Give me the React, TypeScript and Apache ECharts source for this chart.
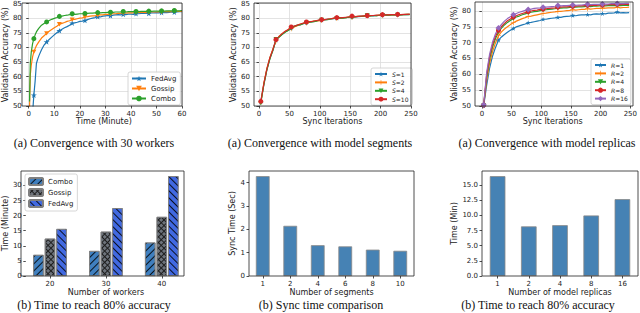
import React, { useEffect, useRef } from "react";
import * as echarts from "echarts";

// ---------- Panel (a) 30 workers ----------
const timeMin = [0.3, 0.6, 1, 1.5, 2, 2.5, 3, 3.5, 4, 5, 6, 7, 8, 9, 10, 11, 12, 13, 14, 15, 16, 17, 18, 19, 20, 21, 22, 23, 24, 25, 26, 27, 28, 29, 30, 31, 32, 33, 34, 35, 36, 37, 38, 39, 40, 41, 42, 43, 44, 45, 46, 47, 48, 49, 50, 51, 52, 53, 54, 55, 56, 57, 58, 59, 60];
const fedAvgAcc = [15, 24, 36, 47.5, 53.7, 58.5, 64.5, 66.0, 67.2, 69.2, 70.8,
  71.9, 72.7, 73.5, 74.3, 75.0, 75.7, 76.2, 76.7, 77.1, 77.6,
  78.3, 78.4, 78.6, 78.9, 79.0, 79.2, 79.5, 79.8, 80.0, 80.2,
  80.5, 80.4, 80.7, 80.8, 80.9, 80.8, 81.0, 81.1, 81.2, 81.1,
  81.3, 81.2, 81.4, 81.4, 81.3, 81.5, 81.5, 81.6, 81.6, 81.7,
  81.6, 81.8, 81.8, 81.9, 81.8, 81.9, 82.0, 81.9, 82.0, 82.1,
  82.0, 82.1, 82.2, 82.2];
const gossipAcc = [49.0, 60.5, 64.0, 66.8, 68.5, 69.6, 70.6, 71.3, 72.0, 73.2, 74.0,
  74.8, 75.5, 76.1, 76.7, 77.2, 77.9, 78.2, 78.5, 78.9, 79.1,
  79.5, 79.6, 79.8, 80.0, 80.1, 80.4, 80.5, 80.7, 80.8, 80.8,
  81.0, 81.1, 81.1, 81.3, 81.3, 81.4, 81.5, 81.5, 81.6, 81.6,
  81.7, 81.7, 81.8, 81.8, 81.8, 81.9, 81.9, 82.0, 82.0, 81.9,
  82.0, 82.1, 82.1, 82.1, 82.2, 82.1, 82.2, 82.2, 82.3, 82.2,
  82.3, 82.3, 82.3, 82.3];
const comboAcc = [51.5, 64.5, 68.5, 71.3, 73.0, 74.3, 75.3, 76.0, 76.6, 77.6, 78.2,
  78.7, 79.2, 79.6, 79.9, 80.2, 80.6, 80.7, 80.9, 81.0, 81.2,
  81.5, 81.3, 81.4, 81.5, 81.5, 81.6, 81.6, 81.7, 81.7, 81.8,
  81.9, 81.8, 81.9, 81.9, 82.0, 82.0, 82.0, 82.1, 82.1, 82.1,
  82.3, 82.1, 82.2, 82.2, 82.2, 82.3, 82.2, 82.3, 82.3, 82.3,
  82.4, 82.3, 82.4, 82.4, 82.4, 82.5, 82.4, 82.5, 82.5, 82.5,
  82.6, 82.5, 82.5, 82.6];
const timeMarks = [2, 7, 12, 17, 22, 27, 32, 37, 42, 47, 52, 57];

// ---------- Panel (a) model segments / replicas ----------
const iters = [3, 8, 13, 18, 23, 28, 33, 38, 43, 48, 53, 58, 63, 68, 73, 78, 83, 88, 93, 98, 103, 108, 113, 118, 123, 128, 133, 138, 143, 148, 153, 158, 163, 168, 173, 178, 183, 188, 193, 198, 203, 208, 213, 218, 223, 228, 233, 238, 243, 248];
const iterMarks = [3, 28, 53, 78, 103, 128, 153, 178, 203, 228];
const seg1 = [51.5, 57.5, 62.5, 66.3, 69.2, 72.5, 73.6, 74.5, 75.3, 75.9, 76.6, 77.1, 77.5, 77.8, 78.1, 78.5, 78.6, 78.8, 79.0, 79.2, 79.3, 79.4, 79.6, 79.7, 79.8, 80.0, 80.0, 80.1, 80.2, 80.3, 80.5, 80.4, 80.5, 80.6, 80.7, 80.8, 80.8, 80.8, 80.9, 80.9, 81.0, 81.0, 81.0, 81.1, 81.1, 81.2, 81.1, 81.2, 81.2, 81.3];
const seg2 = [51.2, 57.8, 62.8, 66.6, 69.5, 72.3, 73.8, 74.7, 75.4, 76.0, 76.4, 77.0, 77.4, 77.9, 78.2, 78.3, 78.7, 78.9, 79.1, 79.1, 79.2, 79.5, 79.6, 79.8, 79.9, 79.9, 80.1, 80.2, 80.2, 80.4, 80.3, 80.5, 80.6, 80.6, 80.7, 80.7, 80.8, 80.9, 80.9, 81.0, 80.9, 81.0, 81.1, 81.1, 81.2, 81.1, 81.2, 81.2, 81.3, 81.3];
const seg4 = [51.0, 57.2, 62.3, 66.1, 69.0, 72.8, 73.5, 74.4, 75.2, 75.8, 76.5, 77.2, 77.6, 77.7, 78.2, 78.4, 78.6, 78.7, 78.9, 79.3, 79.4, 79.5, 79.5, 79.7, 79.9, 80.0, 80.1, 80.0, 80.2, 80.3, 80.2, 80.4, 80.6, 80.6, 80.7, 80.9, 80.8, 80.9, 80.8, 81.0, 81.0, 81.1, 81.0, 81.1, 81.2, 81.1, 81.1, 81.2, 81.3, 81.2];
const seg10 = [51.6, 57.6, 62.7, 66.5, 69.4, 72.7, 73.7, 74.7, 75.5, 76.1, 77.0, 77.3, 77.6, 78.0, 78.3, 78.7, 78.8, 78.9, 79.1, 79.3, 79.5, 79.5, 79.7, 79.8, 80.0, 80.2, 80.1, 80.2, 80.3, 80.4, 80.7, 80.5, 80.6, 80.7, 80.8, 80.9, 80.9, 80.9, 81.0, 81.0, 81.2, 81.1, 81.1, 81.2, 81.2, 81.3, 81.2, 81.3, 81.3, 81.4];
const rep1 = [50.0, 56.5, 62.0, 65.8, 68.5, 70.8, 71.8, 72.6, 73.3, 73.9, 74.5, 75.0, 75.3, 75.6, 75.9, 76.3, 76.4, 76.6, 76.8, 77.0, 77.4, 77.4, 77.6, 77.7, 77.8, 78.0, 78.0, 78.2, 78.3, 78.4, 78.6, 78.5, 78.7, 78.8, 78.8, 78.9, 78.8, 79.0, 79.1, 79.0, 79.2, 79.1, 79.3, 79.3, 79.4, 79.7, 79.4, 79.5, 79.4, 79.5];
const rep2 = [50.1, 58.0, 63.5, 67.2, 70.0, 72.2, 73.4, 74.3, 75.0, 75.7, 76.3, 76.8, 77.2, 77.6, 77.9, 78.3, 78.4, 78.6, 78.8, 79.0, 79.2, 79.3, 79.5, 79.6, 79.7, 79.9, 79.9, 80.0, 80.1, 80.2, 80.4, 80.3, 80.4, 80.5, 80.5, 80.7, 80.6, 80.7, 80.8, 80.8, 80.9, 80.9, 81.0, 81.0, 81.0, 81.2, 81.0, 81.1, 81.1, 81.2];
const rep4 = [50.2, 59.0, 64.8, 68.6, 71.3, 73.4, 74.6, 75.6, 76.4, 77.0, 77.6, 78.1, 78.4, 78.8, 79.1, 79.4, 79.6, 79.8, 79.9, 80.1, 80.3, 80.4, 80.5, 80.6, 80.7, 80.9, 80.9, 81.0, 81.0, 81.1, 81.2, 81.2, 81.3, 81.3, 81.4, 81.5, 81.4, 81.5, 81.5, 81.6, 81.6, 81.6, 81.7, 81.7, 81.7, 81.8, 81.7, 81.8, 81.8, 81.8];
const rep8 = [50.3, 59.8, 65.6, 69.4, 72.0, 73.9, 75.1, 76.1, 76.9, 77.5, 78.1, 78.5, 78.9, 79.2, 79.5, 79.8, 80.0, 80.2, 80.3, 80.5, 80.6, 80.7, 80.8, 80.9, 81.0, 81.2, 81.2, 81.3, 81.3, 81.4, 81.5, 81.5, 81.6, 81.6, 81.7, 81.8, 81.7, 81.8, 81.8, 81.9, 81.9, 81.9, 82.0, 82.0, 82.0, 82.1, 82.0, 82.1, 82.1, 82.1];
const rep16 = [50.4, 60.5, 66.4, 70.2, 72.8, 74.6, 75.8, 76.8, 77.6, 78.2, 78.8, 79.2, 79.6, 79.9, 80.2, 80.5, 80.6, 80.8, 80.9, 81.0, 81.2, 81.2, 81.3, 81.4, 81.5, 81.7, 81.6, 81.7, 81.7, 81.8, 81.9, 81.8, 81.9, 81.9, 82.0, 82.1, 82.0, 82.1, 82.1, 82.1, 82.2, 82.2, 82.2, 82.3, 82.3, 82.4, 82.3, 82.3, 82.4, 82.4];

// ---------- Panel (b) bars ----------
const workerCats = ["20", "30", "40"];
const comboTime = [7.0, 8.3, 11.1];
const gossipTime = [12.4, 14.7, 19.6];
const fedAvgTime = [15.6, 22.5, 33.1];
const segmentCats = ["1", "2", "4", "6", "8", "10"];
const syncTime = [4.28, 2.15, 1.32, 1.27, 1.13, 1.08];
const replicaCats = ["1", "2", "4", "8", "16"];
const replicaTime = [16.5, 8.2, 8.4, 10.0, 12.7];

// ---------- tick lists ----------
const ticksTime = [0, 10, 20, 30, 40, 50, 60];
const ticksIter = [0, 50, 100, 150, 200, 250];
const ticksAcc85 = [50, 55, 60, 65, 70, 75, 80, 85];
const ticksAcc80 = [50, 55, 60, 65, 70, 75, 80];
const ticksWorkers = [0, 5, 10, 15, 20, 25, 30];
const ticksSync = [0, 1, 2, 3, 4];
const ticksReplica = [0, 2.5, 5, 7.5, 10, 12.5, 15];

const FONT = "DejaVu Sans";
const SERIF = "Liberation Serif";
const INK = "#222";
const C = ["#1f77b4", "#ff7f0e", "#2ca02c", "#d62728", "#9467bd"];
const STAR = "path://M50,0 L61.8,35.1 L98.9,35.1 L68.9,56.8 L80.3,91.9 L50,70.2 L19.7,91.9 L31.1,56.8 L1.1,35.1 L38.2,35.1 Z";
const TRI_DOWN = "path://M0,0 L100,0 L50,87 Z";
const PLUS = "path://M44,0 H56 V44 H100 V56 H56 V100 H44 V56 H0 V44 H44 Z";

function lineSeries(name: string, xs: number[], ys: number[], color: string, symbol: string, size: number, marks: number[], idx: number) {
  return {
    type: "line",
    name,
    xAxisIndex: idx,
    yAxisIndex: idx,
    data: xs.map((x, i) => [x, ys[i]]),
    symbol,
    symbolKeepAspect: true,
    symbolSize: (v: number[]) => (marks.includes(v[0]) ? size : 0),
    showSymbol: true,
    clip: true,
    lineStyle: { color, width: 1.2 },
    itemStyle: { color },
    emphasis: { disabled: true },
  };
}

function valAxis(grid: number, min: number, max: number, ticks: number[], extra: any = {}) {
  return {
    type: "value",
    gridIndex: grid,
    min,
    max,
    axisLine: { show: false },
    axisTick: { show: true, length: 2.5, customValues: ticks, lineStyle: { color: INK, width: 0.8 } },
    axisLabel: { customValues: ticks, fontSize: 7, fontFamily: FONT, color: INK, margin: 4 },
    splitLine: { show: false },
    nameLocation: "middle",
    nameTextStyle: { fontSize: 8, fontFamily: FONT, color: INK },
    ...extra,
  };
}

function catAxis(grid: number, cats: string[], name: string) {
  return {
    type: "category",
    gridIndex: grid,
    data: cats,
    axisLine: { show: false },
    axisTick: { show: true, alignWithLabel: true, length: 2.5, lineStyle: { color: INK, width: 0.8 } },
    axisLabel: { fontSize: 7, fontFamily: FONT, color: INK, margin: 4 },
    name,
    nameLocation: "middle",
    nameGap: 12,
    nameTextStyle: { fontSize: 8, fontFamily: FONT, color: INK },
  };
}

const gridLine = { show: true, lineStyle: { color: "#dcdcdc", width: 0.8 } };

const hatch = (rotation: number) => ({
  symbol: "rect",
  symbolSize: 1,
  color: "rgba(0,0,0,0.85)",
  dashArrayX: [1, 0],
  dashArrayY: [1, 3.5],
  rotation,
});

const frames = [
  [22, 3, 160, 103],
  [254, 3, 157, 103],
  [475, 2, 158, 104],
  [21, 171, 163, 105],
  [249, 171, 165, 105],
  [482, 171, 156, 105],
];

const captions = [
  ["(a) Convergence with 30 workers", 94, 143],
  ["(a) Convergence with model segments", 320, 143],
  ["(a) Convergence with model replicas", 547, 143],
  ["(b) Time to reach 80% accuracy", 94, 305],
  ["(b) Sync time comparison", 321, 305],
  ["(b) Time to reach 80% accuracy", 538, 305],
];

const legendBase = {
  orient: "vertical",
  borderColor: "#cccccc",
  borderWidth: 0.8,
  borderRadius: 2,
  backgroundColor: "rgba(255,255,255,0.85)",
  textStyle: { fontSize: 7, fontFamily: FONT, color: INK },
  selectedMode: false,
};

const italicFmt = (n: string) => `{i|${n[0]}}${n.slice(1)}`;

const option: any = {
  animation: false,
  backgroundColor: "#fff",
  grid: [
    { left: 22, top: 3, width: 160, height: 103 },
    { left: 254, top: 3, width: 157, height: 103 },
    { left: 475, top: 2, width: 158, height: 104 },
    { left: 17.25, top: 171, width: 172.5, height: 105 },
    { left: 249, top: 171, width: 165, height: 105 },
    { left: 482, top: 171, width: 156, height: 105 },
  ],
  xAxis: [
    valAxis(0, -1.15, 60, ticksTime, { name: "Time (Minute)", nameGap: 11, splitLine: gridLine }),
    valAxis(1, -8.2, 250, ticksIter, { name: "Sync Iterations", nameGap: 11, splitLine: gridLine }),
    valAxis(2, -11.6, 250, ticksIter, { name: "Sync Iterations", nameGap: 11, splitLine: gridLine }),
    catAxis(3, workerCats, "Number of workers"),
    catAxis(4, segmentCats, "Number of segments"),
    catAxis(5, replicaCats, "Number of model replicas"),
  ],
  yAxis: [
    valAxis(0, 50, 85, ticksAcc85, { name: "Validation Accuracy (%)", nameGap: 13, splitLine: gridLine }),
    valAxis(1, 50, 85, ticksAcc85, { name: "Validation Accuracy (%)", nameGap: 15, splitLine: gridLine }),
    valAxis(2, 50, 82.84, ticksAcc80, { name: "Validation Accuracy (%)", nameGap: 13, splitLine: gridLine }),
    valAxis(3, 0, 34.8, ticksWorkers, { name: "Time (Minute)", nameGap: 13, offset: -3.75 }),
    valAxis(4, 0, 4.5, ticksSync, { name: "Sync Time (Sec)", nameGap: 10 }),
    valAxis(5, 0, 17.35, ticksReplica, {
      name: "Time (Min)",
      nameGap: 20,
      axisLabel: { customValues: ticksReplica, fontSize: 7, fontFamily: FONT, color: INK, margin: 4, formatter: (v: number) => v.toFixed(1) },
    }),
  ],
  legend: [
    { ...legendBase, data: ["FedAvg", "Gossip", "Combo"], left: 128, top: 72, itemWidth: 14, itemHeight: 7, itemGap: 3, padding: [3, 4, 3, 3] },
    {
      ...legendBase, data: ["S=1", "S=2", "S=4", "S=10"], left: 371, top: 68, itemWidth: 12, itemHeight: 6, itemGap: 2.4, padding: [3, 4, 3, 3],
      formatter: italicFmt,
      textStyle: { fontSize: 6, fontFamily: FONT, color: INK, rich: { i: { fontSize: 6, fontFamily: FONT, fontStyle: "italic", color: INK } } },
    },
    {
      ...legendBase, data: ["R=1", "R=2", "R=4", "R=8", "R=16"], left: 591, top: 59, itemWidth: 11, itemHeight: 6.5, itemGap: 2.4, padding: [3, 3, 3, 3],
      formatter: italicFmt,
      textStyle: { fontSize: 6, fontFamily: FONT, color: INK, rich: { i: { fontSize: 6, fontFamily: FONT, fontStyle: "italic", color: INK } } },
    },
    {
      ...legendBase, data: ["bar:Combo", "bar:Gossip", "bar:FedAvg"], left: 25, top: 174, itemWidth: 14, itemHeight: 7, itemGap: 2, padding: [3, 4, 3, 3],
      formatter: (n: string) => n.replace("bar:", ""),
    },
  ],
  series: [
    lineSeries("FedAvg", timeMin, fedAvgAcc, C[0], STAR, 6, timeMarks, 0),
    lineSeries("Gossip", timeMin, gossipAcc, C[1], TRI_DOWN, 5, timeMarks, 0),
    lineSeries("Combo", timeMin, comboAcc, C[2], "circle", 5, timeMarks, 0),
    lineSeries("S=1", iters, seg1, C[0], STAR, 5, iterMarks, 1),
    lineSeries("S=2", iters, seg2, C[1], PLUS, 5, iterMarks, 1),
    lineSeries("S=4", iters, seg4, C[2], TRI_DOWN, 5, iterMarks, 1),
    lineSeries("S=10", iters, seg10, C[3], "circle", 5, iterMarks, 1),
    lineSeries("R=1", iters, rep1, C[0], STAR, 5, iterMarks, 2),
    lineSeries("R=2", iters, rep2, C[1], PLUS, 5, iterMarks, 2),
    lineSeries("R=4", iters, rep4, C[2], TRI_DOWN, 5, iterMarks, 2),
    lineSeries("R=8", iters, rep8, C[3], "circle", 5, iterMarks, 2),
    lineSeries("R=16", iters, rep16, C[4], "diamond", 6, iterMarks, 2),
    {
      type: "bar", name: "bar:Combo", xAxisIndex: 3, yAxisIndex: 3, data: comboTime, barWidth: 10.5, barGap: "10%",
      itemStyle: { color: "#3f7fbf", borderColor: "#808080", borderWidth: 0.8, decal: hatch(-Math.PI / 4) },
    },
    {
      type: "bar", name: "bar:Gossip", xAxisIndex: 3, yAxisIndex: 3, data: gossipTime, barWidth: 10.5, barGap: "10%",
      itemStyle: {
        color: "#1e1e1e", borderColor: "#808080", borderWidth: 0.8,
        decal: { symbol: "rect", symbolSize: 1, color: "#6d737b", dashArrayX: [3, 1], dashArrayY: [3, 1], rotation: Math.PI / 4 },
      },
    },
    {
      type: "bar", name: "bar:FedAvg", xAxisIndex: 3, yAxisIndex: 3, data: fedAvgTime, barWidth: 10.5, barGap: "10%",
      itemStyle: { color: "#4169e1", borderColor: "#808080", borderWidth: 0.8, decal: hatch(Math.PI / 4) },
    },
    {
      type: "bar", name: "segments", xAxisIndex: 4, yAxisIndex: 4, data: syncTime, barWidth: "50%",
      itemStyle: { color: "#4682b4", borderColor: "#888", borderWidth: 0.8 },
    },
    {
      type: "bar", name: "replicas", xAxisIndex: 5, yAxisIndex: 5, data: replicaTime, barWidth: "50%",
      itemStyle: { color: "#4682b4", borderColor: "#888", borderWidth: 0.8 },
    },
  ],
  graphic: [
    ...frames.map(([x, y, w, h]) => ({
      type: "rect", silent: true, z: 100,
      shape: { x, y, width: w, height: h },
      style: { fill: "none", stroke: INK, lineWidth: 0.8 },
    })),
    ...captions.map(([t, x, y]) => ({
      type: "text", silent: true, z: 100, x: x as number, y: y as number,
      style: { text: t as string, fontSize: 12, fontFamily: SERIF, fill: "#111", textAlign: "center", textVerticalAlign: "middle" },
    })),
  ],
};

export default function App() {
  const ref = useRef<HTMLDivElement>(null);
  useEffect(() => {
    const chart = echarts.init(ref.current as HTMLDivElement, null, { renderer: "svg" });
    chart.setOption(option);
    return () => chart.dispose();
  }, []);
  return (
    <div
      ref={ref}
      style={{ position: "absolute", left: 0, top: 0, width: 640, height: 313, background: "#fff" }}
    />
  );
}
